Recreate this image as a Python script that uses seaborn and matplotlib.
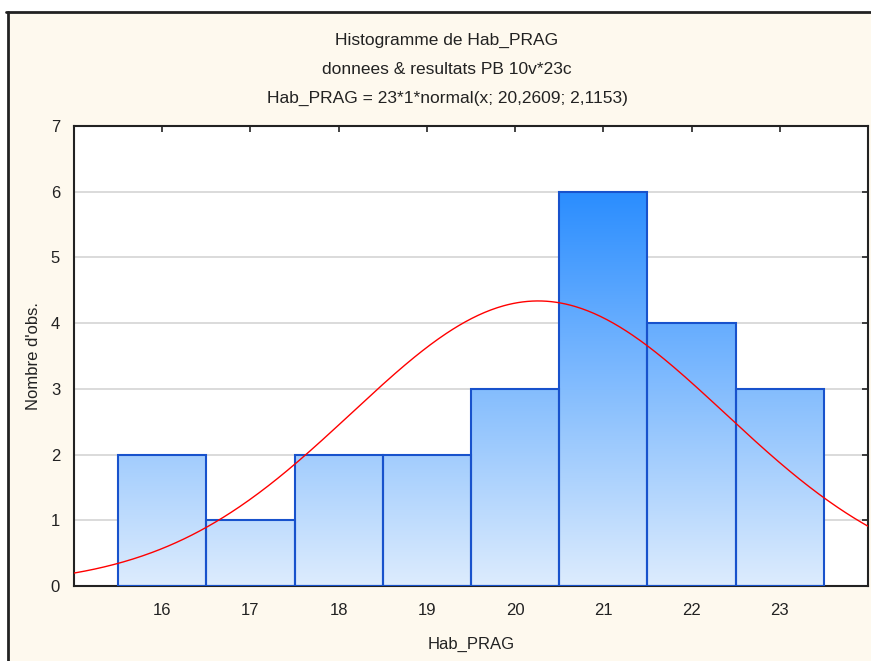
import numpy as np
import pandas as pd
import seaborn as sns
import matplotlib.pyplot as plt
from matplotlib.colors import LinearSegmentedColormap
from matplotlib.patches import Rectangle
from matplotlib.lines import Line2D

# histogram values
bin_centers = [16, 17, 18, 19, 20, 21, 22, 23]
counts = [2, 1, 2, 2, 3, 6, 4, 3]
bin_edges = [15.5, 16.5, 17.5, 18.5, 19.5, 20.5, 21.5, 22.5, 23.5]

# fitted normal from the chart's title
n_obs = 23
mean = 20.2609
sd = 2.1153

title_lines = ["Histogramme de Hab_PRAG",
               "donnees & resultats PB 10v*23c",
               "Hab_PRAG = 23*1*normal(x; 20,2609; 2,1153)"]

df = pd.DataFrame({"Hab_PRAG": bin_centers, "n": counts})

sns.set_style("white")
plt.rcParams['font.family'] = ['Liberation Sans', 'DejaVu Sans']

fig = plt.figure(figsize=(8.71, 6.61), dpi=100, facecolor='white')
W, H = 871, 661

# cream panel with dark frame (top and left visible)
fig.patches.append(Rectangle((8 / W, 0), 1 - 8 / W, 1 - 12 / H, transform=fig.transFigure,
                             facecolor='#fef9ee', edgecolor='none', zorder=-10))
fig.lines.append(Line2D([6 / W, 1], [1 - 12 / H, 1 - 12 / H], transform=fig.transFigure,
                        color='#222222', lw=2, zorder=-5))
fig.lines.append(Line2D([8 / W, 8 / W], [0, 1 - 12 / H], transform=fig.transFigure,
                        color='#222222', lw=2, zorder=-5))

ax = fig.add_axes([74 / W, (H - 586) / H, (868 - 74) / W, (586 - 126) / H])
ax.set_facecolor('white')

sns.histplot(data=df, x="Hab_PRAG", weights="n", bins=bin_edges, ax=ax,
             edgecolor='#1852cc', linewidth=1.5, facecolor='none', zorder=3)

# vertical gradient fill inside each bar
cmap = LinearSegmentedColormap.from_list('grad', ['#ddecfd', '#2a8dff'])
grad = np.linspace(0, 1, 256).reshape(-1, 1)
for p in ax.patches:
    p.set_facecolor('none')
    im = ax.imshow(grad, cmap=cmap, extent=[15, 24, 0, 6], origin='lower',
                   aspect='auto', zorder=2)
    im.set_clip_path(p)

# normal curve
xs = np.linspace(15, 24, 500)
ys = n_obs * 1 * np.exp(-0.5 * ((xs - mean) / sd) ** 2) / (sd * np.sqrt(2 * np.pi))
ax.plot(xs, ys, color='#ff0000', lw=1, zorder=4)

ax.set_xlim(15, 24)
ax.set_ylim(0, 7)
ax.set_xticks(bin_centers)
ax.set_yticks(range(0, 8))
ax.yaxis.grid(True, color='#d4d4d4', lw=1.2, zorder=0)
ax.set_axisbelow(True)
ax.tick_params(direction='in', length=4, width=1.2, colors='#222222', labelsize=12,
               top=True, right=True, labelcolor='#222222')
ax.tick_params(axis='x', pad=12)
ax.tick_params(axis='y', pad=10)
for s in ax.spines.values():
    s.set_color('#222222')
    s.set_linewidth(1.5)

ax.set_xlabel("Hab_PRAG", fontsize=12, labelpad=14, color='#222222')
ax.set_ylabel("Nombre d'obs.", fontsize=12, labelpad=7, color='#222222')

for i, t in enumerate(title_lines):
    fig.text(447 / W, 1 - (40 + 29 * i) / H, t, ha='center', va='center',
             fontsize=12.5, color='#222222')

fig.savefig("out.png", dpi=100, facecolor=fig.get_facecolor())
